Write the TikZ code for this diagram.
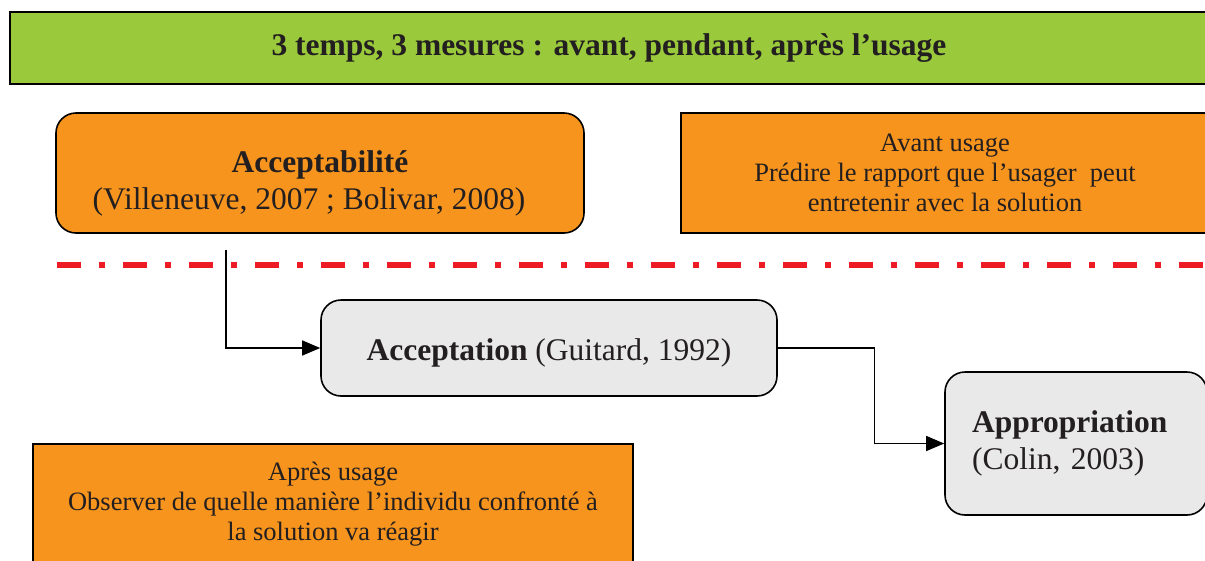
\documentclass[tikz,border=0pt]{standalone}
\usepackage{fontspec}
\setmainfont{Liberation Serif}
\usetikzlibrary{arrows.meta}
\definecolor{vert}{HTML}{9ACA3C}
\definecolor{orange}{HTML}{F7941D}
\definecolor{gris}{HTML}{E9E9E9}
\definecolor{rouge}{HTML}{ED1C24}
\definecolor{encre}{HTML}{231F20}
\begin{document}
\begin{tikzpicture}[x=1pt, y=-1pt,
    boite/.style={draw=black, line width=1.6pt, inner sep=0pt, text=encre, align=center,
        font=\fontsize{31.5}{37}\selectfont},
    note/.style={draw=black, line width=1.6pt, fill=orange, inner sep=0pt, text=encre,
        align=center, font=\fontsize{26.5}{30}\selectfont},
    fleche/.style={line width=1.3pt, -{Triangle[length=18pt, width=15pt]}}]
    \useasboundingbox (0,0) rectangle (1205,560);
    \node[boite, fill=vert, minimum width=1198, minimum height=72] (titre) at (609,48)
        {\bfseries 3 temps, 3 mesures : avant, pendant, après l’usage};
    \node[boite, fill=orange, rounded corners=20, minimum width=528, minimum height=120] (acceptabilite) at (320,173)
        {\rule{0pt}{42pt}\textbf{Acceptabilité}\\(Villeneuve, 2007 ; Bolivar, 2008)\hspace*{22pt}};
    \node[note, minimum width=528, minimum height=120] (avant) at (945,173)
        {Avant usage\\Prédire le rapport que l’usager\ \ peut\\entretenir avec la solution};
    \draw[rouge, line width=6pt, dash pattern=on 24pt off 18pt on 6pt off 18pt] (57,265) -- (1205,265);
    \node[boite, fill=gris, rounded corners=20, minimum width=456, minimum height=96] (acceptation) at (549,348)
        {\rule{0pt}{32pt}\textbf{Acceptation} (Guitard, 1992)};
    \node[boite, fill=gris, rounded corners=20, minimum width=262, minimum height=143,
        text width=208, align=left] (appropriation) at (1076,443.5)
        {\textbf{Appropriation}\\(Colin, 2003)};
    \node[note, minimum width=600, minimum height=120] (apres) at (333,504)
        {Après usage\\Observer de quelle manière l’individu confronté à\\la solution va réagir};
    \coordinate (depart) at (226,250);
    \draw[fleche] (depart) |- (acceptation.west);
    \draw[fleche] (acceptation.east) -- ++(97,0) |- (appropriation.west);
\end{tikzpicture}
\end{document}
